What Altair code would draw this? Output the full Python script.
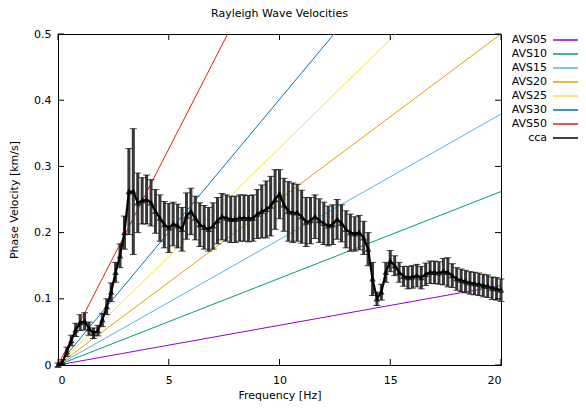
import altair as alt
import pandas as pd

# ---- data ----
freq = [0.0, 0.2, 0.4, 0.6, 0.8, 1.0, 1.2, 1.4, 1.6, 1.8,
        2.0, 2.2, 2.4, 2.6, 2.8, 3.0, 3.2, 3.4, 3.6, 3.8,
        4.0, 4.2, 4.4, 4.6, 4.8, 5.0, 5.2, 5.4, 5.6, 5.8,
        6.0, 6.2, 6.4, 6.6, 6.8, 7.0, 7.2, 7.4, 7.6, 7.8,
        8.0, 8.2, 8.4, 8.6, 8.8, 9.0, 9.2, 9.4, 9.6, 9.8,
        10.0, 10.2, 10.4, 10.6, 10.8, 11.0, 11.2, 11.4, 11.6, 11.8,
        12.0, 12.2, 12.4, 12.6, 12.8, 13.0, 13.2, 13.4, 13.6, 13.8,
        14.0, 14.2, 14.4, 14.6, 14.8, 15.0, 15.2, 15.4, 15.6, 15.8,
        16.0, 16.2, 16.4, 16.6, 16.8, 17.0, 17.2, 17.4, 17.6, 17.8,
        18.0, 18.2, 18.4, 18.6, 18.8, 19.0, 19.2, 19.4, 19.6, 19.8,
        20.0]

cca_mean = [0.000, 0.004, 0.020, 0.037, 0.053, 0.064, 0.066, 0.055, 0.048, 0.052,
            0.068, 0.088, 0.110, 0.140, 0.165, 0.200, 0.262, 0.262, 0.245, 0.248,
            0.250, 0.245, 0.232, 0.222, 0.212, 0.207, 0.213, 0.210, 0.205, 0.225,
            0.232, 0.222, 0.212, 0.208, 0.205, 0.210, 0.218, 0.224, 0.222, 0.220,
            0.220, 0.222, 0.222, 0.221, 0.222, 0.228, 0.232, 0.235, 0.240, 0.250,
            0.258, 0.242, 0.232, 0.230, 0.230, 0.224, 0.216, 0.218, 0.224, 0.218,
            0.214, 0.210, 0.212, 0.220, 0.214, 0.205, 0.200, 0.198, 0.200, 0.192,
            0.175, 0.130, 0.100, 0.110, 0.140, 0.157, 0.150, 0.140, 0.134, 0.132,
            0.133, 0.135, 0.132, 0.137, 0.140, 0.140, 0.139, 0.141, 0.140, 0.135,
            0.130, 0.128, 0.126, 0.124, 0.123, 0.122, 0.120, 0.119, 0.116, 0.115,
            0.113]

cca_err = [0.003, 0.004, 0.007, 0.008, 0.010, 0.012, 0.013, 0.010, 0.008, 0.008,
           0.010, 0.012, 0.014, 0.015, 0.018, 0.025, 0.065, 0.095, 0.045, 0.035,
           0.037, 0.035, 0.033, 0.035, 0.035, 0.037, 0.033, 0.033, 0.033, 0.035,
           0.035, 0.033, 0.033, 0.033, 0.033, 0.035, 0.035, 0.035, 0.035, 0.035,
           0.035, 0.035, 0.035, 0.035, 0.035, 0.037, 0.040, 0.043, 0.045, 0.045,
           0.037, 0.040, 0.045, 0.045, 0.043, 0.040, 0.037, 0.035, 0.033, 0.033,
           0.032, 0.030, 0.030, 0.030, 0.028, 0.028, 0.028, 0.026, 0.026, 0.025,
           0.025, 0.025, 0.010, 0.012, 0.015, 0.016, 0.015, 0.015, 0.015, 0.017,
           0.017, 0.017, 0.017, 0.017, 0.017, 0.017, 0.017, 0.020, 0.022, 0.018,
           0.017, 0.017, 0.017, 0.017, 0.017, 0.017, 0.017, 0.017, 0.017, 0.017,
           0.017]

avs_names = ["AVS05", "AVS10", "AVS15", "AVS20", "AVS25", "AVS30", "AVS50"]
avs_end_freq = [20.0, 20.0, 20.0, 20.0, 15.25, 12.46, 7.66]
avs_end_vel = [0.120, 0.262, 0.379, 0.500, 0.500, 0.500, 0.500]
avs_colors = ["#9400d3", "#009e73", "#56b4e9", "#e69f00", "#f0e442", "#0072b2", "#e51e10"]

x_ticks = [0, 5, 10, 15, 20]
y_ticks = [0, 0.1, 0.2, 0.3, 0.4, 0.5]

FONT = "DejaVu Sans"
W, H = 443, 331

# ---- tables ----
rows = []
for n, fe, ve in zip(avs_names, avs_end_freq, avs_end_vel):
    rows.append({"series": n, "f": 0.0, "v": 0.0})
    rows.append({"series": n, "f": fe, "v": ve})
lines_df = pd.DataFrame(rows)

cca_df = pd.DataFrame({"f": freq, "v": cca_mean, "e": cca_err})
cca_df["lo"] = cca_df["v"] - cca_df["e"]
cca_df["hi"] = cca_df["v"] + cca_df["e"]
cca_df["series"] = "cca"

xt_df = pd.DataFrame({"t": x_ticks})
yt_df = pd.DataFrame({"t": y_ticks})

domain = avs_names + ["cca"]
rng = avs_colors + ["#000000"]

xs = alt.Scale(domain=[0, 20], nice=False, zero=False)
ys = alt.Scale(domain=[0, 0.5], nice=False, zero=False)

xax = alt.Axis(values=x_ticks, format="~g", title="Frequency [Hz]", labelPadding=9, titlePadding=4)
yax = alt.Axis(values=y_ticks, format="~g", title="Phase Velocity [km/s]", labelPadding=7, titlePadding=14)

color = alt.Color(
    "series:N",
    scale=alt.Scale(domain=domain, range=rng),
    title="",
    legend=alt.Legend(
        orient="none", legendX=503, legendY=-1,
        symbolType="M-2.5,0H2.5", symbolSize=144, symbolStrokeWidth=1.5,
        labelAlign="right", labelOffset={"expr": "-28"},
        labelFont=FONT, labelFontSize=11, labelColor="black",
        rowPadding=2, padding=0,
    ),
)

avs = alt.Chart(lines_df).mark_line(strokeWidth=1, clip=True).encode(
    x=alt.X("f:Q", scale=xs, axis=xax),
    y=alt.Y("v:Q", scale=ys, axis=yax),
    color=color,
    detail="series:N",
)

bars = alt.Chart(cca_df).mark_rule(strokeWidth=3, color="#383838").encode(
    x="f:Q", y="lo:Q", y2="hi:Q"
)
cap_lo = alt.Chart(cca_df).mark_tick(orient="horizontal", size=7, thickness=1, color="#000000").encode(
    x="f:Q", y="lo:Q"
)
cap_hi = alt.Chart(cca_df).mark_tick(orient="horizontal", size=7, thickness=1, color="#000000").encode(
    x="f:Q", y="hi:Q"
)
mean_line = alt.Chart(cca_df).mark_line(strokeWidth=2.2).encode(
    x="f:Q", y="v:Q", color=color
)
tri = alt.Chart(cca_df).mark_point(shape="triangle-up", size=22, filled=False, strokeWidth=1.2, color="#000000").encode(
    x="f:Q", y="v:Q"
)

tb = alt.Chart(xt_df).mark_rule(color="black", strokeWidth=1).encode(
    x="t:Q", y=alt.value(H), y2=alt.value(H - 6)
)
tt = alt.Chart(xt_df).mark_rule(color="black", strokeWidth=1).encode(
    x="t:Q", y=alt.value(0), y2=alt.value(6)
)
tl = alt.Chart(yt_df).mark_rule(color="black", strokeWidth=1).encode(
    y="t:Q", x=alt.value(0), x2=alt.value(6)
)
tr = alt.Chart(yt_df).mark_rule(color="black", strokeWidth=1).encode(
    y="t:Q", x=alt.value(W), x2=alt.value(W - 6)
)

chart = alt.layer(avs, bars, cap_lo, cap_hi, mean_line, tri, tb, tt, tl, tr).properties(
    width=W, height=H,
    title=alt.Title("Rayleigh Wave Velocities", font=FONT, fontSize=11, fontWeight="normal",
                    color="black", anchor="middle", offset=9),
    autosize=alt.AutoSizeParams(type="none"),
    padding={"left": 50, "top": 26, "right": 77, "bottom": 36},
).configure_view(
    stroke="black", strokeWidth=1
).configure_axis(
    domain=False, ticks=False, grid=False,
    labelFont=FONT, labelFontSize=11, labelColor="black",
    titleFont=FONT, titleFontSize=11, titleColor="black", titleFontWeight="normal",
)

chart.save("out.html", embed_options={"renderer": "svg", "actions": False})
